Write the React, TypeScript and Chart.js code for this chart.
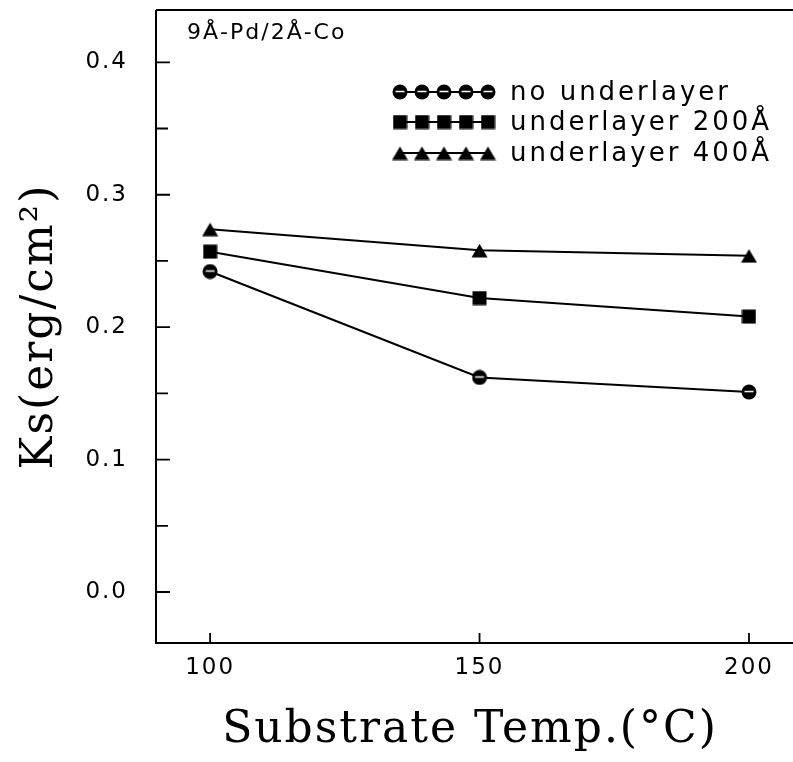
import React, { useEffect, useRef } from "react";
import { Chart, registerables } from "chart.js";

Chart.register(...registerables);

// ---- data ----
const temperatures = [100, 150, 200];
const noUnderlayer = [0.242, 0.162, 0.151];
const underlayer200 = [0.257, 0.222, 0.208];
const underlayer400 = [0.274, 0.258, 0.254];
const seriesLabels = ["no underlayer", "underlayer 200Å", "underlayer 400Å"];
const xTickValues = [100, 150, 200];
const yTickValues = [0.0, 0.1, 0.2, 0.3, 0.4];
const yMinorTickValues = [0.05, 0.15, 0.25, 0.35];
const annotationText = "9Å-Pd/2Å-Co";
const xTitle = "Substrate Temp.(°C)";
const yTitle = "Ks(erg/cm²)";

function makeCircle(): HTMLCanvasElement {
  const c = document.createElement("canvas");
  c.width = 16;
  c.height = 16;
  const g = c.getContext("2d")!;
  g.fillStyle = "#000";
  g.beginPath();
  g.arc(8, 8, 7.5, 0, Math.PI * 2);
  g.fill();
  g.strokeStyle = "#fff";
  g.lineWidth = 1.5;
  g.beginPath();
  g.moveTo(3.5, 7.5);
  g.lineTo(12.5, 7.5);
  g.stroke();
  return c;
}
function makeSquare(): HTMLCanvasElement {
  const c = document.createElement("canvas");
  c.width = 15;
  c.height = 15;
  const g = c.getContext("2d")!;
  g.fillStyle = "#000";
  g.fillRect(0.5, 0.5, 14, 14);
  return c;
}
function makeTriangle(): HTMLCanvasElement {
  const c = document.createElement("canvas");
  c.width = 17;
  c.height = 15;
  const g = c.getContext("2d")!;
  g.fillStyle = "#000";
  g.beginPath();
  g.moveTo(8.5, 1);
  g.lineTo(16.5, 14.5);
  g.lineTo(0.5, 14.5);
  g.closePath();
  g.fill();
  return c;
}

function zeroPadding(s: any) {
  s.paddingTop = 0;
  s.paddingBottom = 0;
  s.paddingLeft = 0;
  s.paddingRight = 0;
}

export default function App() {
  const ref = useRef<HTMLCanvasElement | null>(null);

  useEffect(() => {
    const canvas = ref.current;
    if (!canvas) return;
    const markers = [makeCircle(), makeSquare(), makeTriangle()];
    const series = [noUnderlayer, underlayer200, underlayer400];

    const framePlugin = {
      id: "frame",
      beforeDraw(chart: any) {
        chart.ctx.letterSpacing = "2px";
      },
      beforeDatasetsDraw(chart: any) {
        const { ctx, chartArea, scales } = chart;
        const { left, top, bottom } = chartArea;
        const right = chart.width;
        ctx.save();
        ctx.strokeStyle = "#000";
        ctx.lineWidth = 2;
        ctx.beginPath();
        ctx.moveTo(left, top);
        ctx.lineTo(right, top);
        ctx.moveTo(left, top);
        ctx.lineTo(left, bottom);
        ctx.lineTo(right, bottom);
        ctx.stroke();
        ctx.lineWidth = 1.8;
        ctx.beginPath();
        for (const v of yTickValues) {
          const py = scales.y.getPixelForValue(v);
          ctx.moveTo(left, py);
          ctx.lineTo(left + 14, py);
        }
        for (const v of yMinorTickValues) {
          const py = scales.y.getPixelForValue(v);
          ctx.moveTo(left, py);
          ctx.lineTo(left + 12, py);
        }
        for (const v of xTickValues) {
          const px = scales.x.getPixelForValue(v);
          ctx.moveTo(px, bottom);
          ctx.lineTo(px, bottom - 10);
        }
        ctx.stroke();
        ctx.restore();
      },
      afterDatasetsDraw(chart: any) {
        const { ctx } = chart;
        ctx.save();
        // annotation
        ctx.letterSpacing = "2px";
        ctx.fillStyle = "#000";
        ctx.font = "22px 'DejaVu Sans'";
        ctx.textBaseline = "middle";
        ctx.textAlign = "left";
        ctx.fillText(annotationText, 187, 33);
        // legend
        const rows = [92, 122, 153];
        ctx.letterSpacing = "3px";
        ctx.font = "26px 'DejaVu Sans'";
        seriesLabels.forEach((label, i) => {
          const yy = rows[i];
          ctx.strokeStyle = "#000";
          ctx.lineWidth = 2;
          ctx.beginPath();
          ctx.moveTo(400, yy);
          ctx.lineTo(488, yy);
          ctx.stroke();
          const m = markers[i];
          for (let k = 0; k < 5; k++) {
            const cx = 400 + k * 22;
            ctx.drawImage(m, cx - m.width / 2, yy - m.height / 2);
          }
          ctx.fillText(label, 510, yy + 1);
        });
        ctx.restore();
      },
    };

    const chart = new Chart(canvas, {
      type: "line",
      data: {
        datasets: series.map((vals, i) => ({
          label: seriesLabels[i],
          data: temperatures.map((t, j) => ({ x: t, y: vals[j] })),
          borderColor: "#000",
          backgroundColor: "#000",
          borderWidth: 2,
          pointStyle: markers[i] as any,
          pointRadius: 7,
          pointHoverRadius: 7,
          fill: false,
          tension: 0,
        })),
      },
      options: {
        responsive: false,
        animation: false,
        events: [],
        layout: { padding: { top: 10, right: 0, left: 0, bottom: 0 } },
        plugins: {
          legend: { display: false },
          tooltip: { enabled: false },
        },
        scales: {
          x: {
            type: "linear",
            min: 89.96,
            max: 206.5,
            grid: { display: false, drawTicks: false },
            border: { display: false },
            afterBuildTicks: (s: any) => {
              s.ticks = xTickValues.map((v) => ({ value: v }));
            },
            afterFit: (s: any) => {
              s.height = 119;
              zeroPadding(s);
            },
            ticks: {
              padding: 11,
              color: "#000",
              font: { family: "'DejaVu Sans'", size: 23 },
              callback: (v: any) => String(v),
            },
            title: {
              display: true,
              text: xTitle,
              color: "#000",
              font: { family: "'DejaVu Serif'", size: 44 },
              padding: { top: 0, bottom: 5 },
            },
          },
          y: {
            type: "linear",
            min: -0.0385,
            max: 0.4395,
            grid: { display: false, drawTicks: false },
            border: { display: false },
            afterBuildTicks: (s: any) => {
              s.ticks = yTickValues.map((v) => ({ value: v }));
            },
            afterFit: (s: any) => {
              s.width = 156;
              zeroPadding(s);
            },
            ticks: {
              padding: 28,
              color: "#000",
              font: { family: "'DejaVu Sans'", size: 23 },
              callback: (v: any) => Number(v).toFixed(1),
            },
            title: {
              display: true,
              text: yTitle,
              color: "#000",
              font: { family: "'DejaVu Serif'", size: 44 },
              padding: { top: 14, bottom: 0 },
            },
          },
        },
      },
      plugins: [framePlugin],
    });
    return () => chart.destroy();
  }, []);

  return (
    <div style={{ position: "absolute", left: 0, top: 0, width: 793, height: 762, background: "#fff" }}>
      <canvas ref={ref} width={793} height={762} />
    </div>
  );
}
